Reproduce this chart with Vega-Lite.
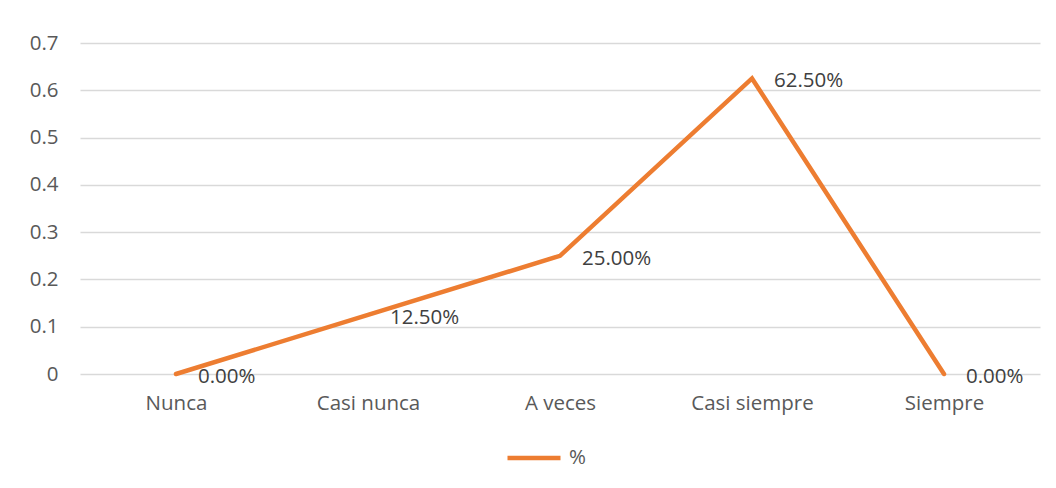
{
  "$schema": "https://vega.github.io/schema/vega-lite/v6.json",
  "width": 960,
  "height": 331,
  "autosize": {"type": "none"},
  "padding": {"left": 80, "top": 43, "right": 16, "bottom": 114},
  "background": "white",
  "config": {
    "view": {"stroke": null},
    "font": "Open Sans",
    "axis": {"labelFont": "Open Sans", "labelFontSize": 20.5, "labelColor": "#595959"},
    "legend": {"labelFont": "Open Sans", "labelFontSize": 20.5, "labelColor": "#595959"}
  },
  "data": {
    "values": [
      {"cat": "Nunca", "value": 0.0, "series": "%"},
      {"cat": "Casi nunca", "value": 0.125, "series": "%"},
      {"cat": "A veces", "value": 0.25, "series": "%"},
      {"cat": "Casi siempre", "value": 0.625, "series": "%"},
      {"cat": "Siempre", "value": 0.0, "series": "%"}
    ]
  },
  "encoding": {
    "x": {
      "field": "cat", "type": "nominal", "sort": null, "title": null,
      "scale": {"type": "point", "padding": 0.5},
      "axis": {"labelAngle": 0, "ticks": false, "domain": false, "labelPadding": 19, "grid": false}
    },
    "y": {
      "field": "value", "type": "quantitative", "title": null,
      "scale": {"domain": [0, 0.7]},
      "axis": {"values": [0, 0.1, 0.2, 0.3, 0.4, 0.5, 0.6, 0.7], "format": "~g", "ticks": false, "domain": false, "labelPadding": 22, "gridColor": "#d9d9d9", "gridWidth": 1.3}
    }
  },
  "layer": [
    {
      "mark": {"type": "line", "strokeWidth": 4.5, "strokeCap": "round"},
      "encoding": {
        "color": {
          "field": "series", "type": "nominal",
          "scale": {"range": ["#ED7D31"]},
          "legend": {"title": null, "orient": "none", "legendX": 425, "legendY": 386, "symbolType": "stroke", "symbolSize": 2809, "symbolStrokeWidth": 4.5, "labelOffset": 6}
        }
      }
    },
    {
      "mark": {"type": "text", "align": "left", "baseline": "middle", "dx": 22, "dy": 3, "fontSize": 20.5, "color": "#404040", "font": "Open Sans"},
      "encoding": {
        "text": {"field": "value", "type": "quantitative", "format": ".2%"}
      }
    }
  ]
}
